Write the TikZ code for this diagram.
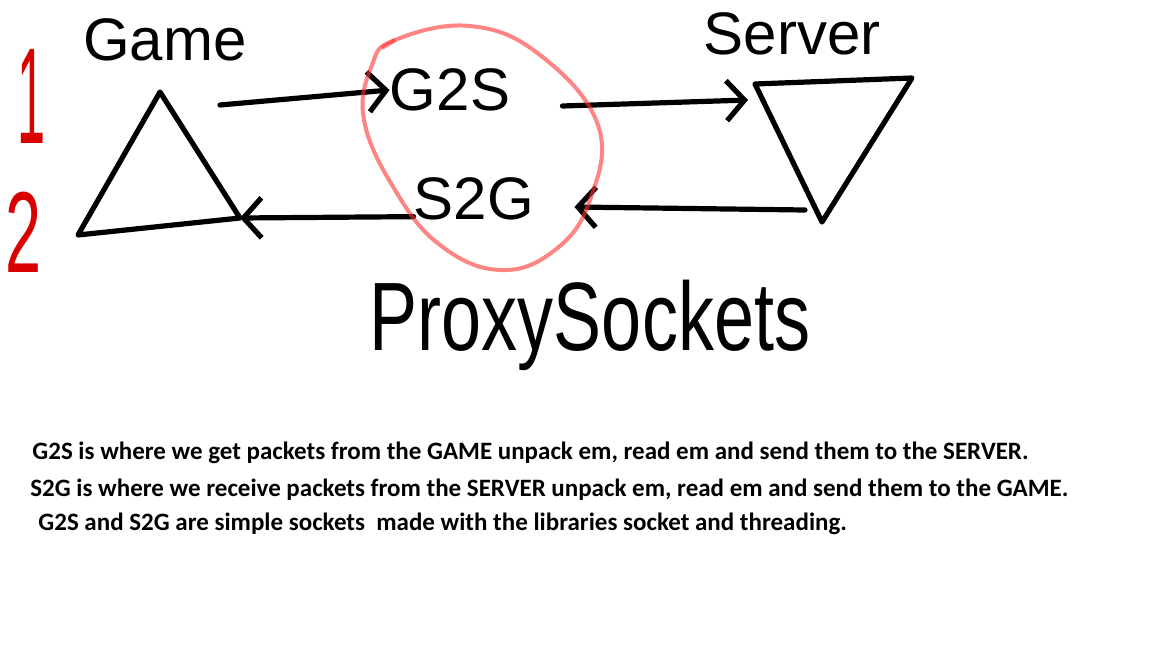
\documentclass[tikz,border=0pt]{standalone}
\usepackage{fontspec}
\setmainfont{Carlito}
\newfontfamily\sketchfont{Liberation Sans}
\usetikzlibrary{arrows.meta,positioning}

\tikzset{
  pen/.style={line width=2.6pt, line cap=round, line join=round},
  penarrow/.style={pen, -{Straight Barb[length=9pt,width=20pt,line width=2.6pt]}},
  sketchlabel/.style={font=\sketchfont\fontsize{30}{30}\selectfont, inner sep=0pt},
  rednum/.style={text=red!85!black, font=\sketchfont\fontsize{36}{36}\selectfont, inner sep=0pt},
  note/.style={font=\bfseries\fontsize{12.5}{14}\selectfont, anchor=west, inner sep=0pt}
}

\begin{document}
\begin{tikzpicture}[x=0.5pt, y=-0.5pt]
\useasboundingbox[fill=white] (0,0) rectangle (1152,648);

% labels
\node[sketchlabel] (game) at (165,40) {Game};
\node[sketchlabel] (server) at (792,34) {Server};
\node[rednum] (one) at (32,96) {\scalebox{0.7}[1.9]{1}};
\node[rednum] (two) at (24,232) {\scalebox{0.9}[1.6]{2}};
\node[sketchlabel] (g2s) at (450,90) {G2S};
\node[sketchlabel] (s2g) at (474,199) {S2G};
\node[sketchlabel, font=\sketchfont\fontsize{36}{36}\selectfont] (proxy) at (590,325) {\scalebox{1}[1.35]{ProxySockets}};

% triangles
\draw[pen] (160,92) -- (240,218) -- (78,235) -- cycle;
\draw[pen] (755,84) -- (912,78) -- (822,222) -- cycle;

% arrow ends
\coordinate (gameout) at (220,105);
\coordinate (gamein) at (240,218);
\coordinate (serverin) at (748,100);
\coordinate (serverout) at (805,210);

\draw[penarrow] (gameout) -- (g2s.west);
\draw[penarrow] (g2s.east) ++(52,16) -- (serverin);
\draw[penarrow] (serverout) -- ([xshift=20pt,yshift=-4pt]s2g.east);
\draw[penarrow] ([yshift=2pt]s2g.south west) -- (gamein);

% red ring round the proxy sockets
\draw[red!80, line width=2pt, opacity=0.6]
  plot[smooth cycle, tension=0.7] coordinates
  {(395,40) (470,26) (540,55) (598,125) (590,200) (555,250) (500,270)
   (440,245) (395,190) (364,120) (372,65)};
\draw[red!80, line width=2pt, opacity=0.6] (395,40) -- (382,48);

% notes
\node[note] (n1) at (32,453) {G2S is where we get packets from the GAME unpack em, read em and send them to the SERVER.};
\node[note] (n2) at (30,490) {S2G is where we receive packets from the SERVER unpack em, read em and send them to the GAME.};
\node[note] (n3) at (38,524) {G2S and S2G are simple sockets\ \ made with the libraries socket and threading.};
\end{tikzpicture}
\end{document}
